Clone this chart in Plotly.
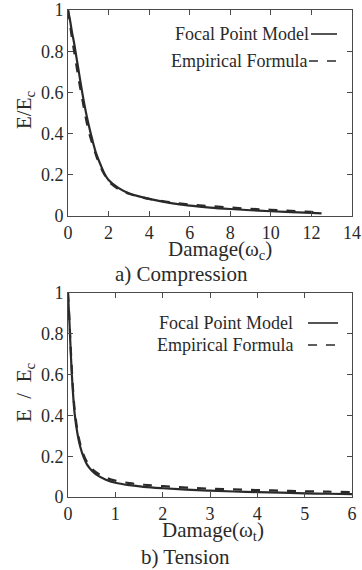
import plotly.graph_objects as go

# ---- data ----
comp_x_fpm = [0.0, 0.1, 0.2, 0.3, 0.4, 0.55, 0.7, 0.85, 1.0, 1.2, 1.4, 1.6, 1.8, 2.0, 2.5, 3.0, 3.5, 4.0, 5.0, 6.0, 7.0, 8.0, 9.0, 10.0, 11.0, 12.0, 12.5]
comp_y_fpm = [1.0, 0.95, 0.89, 0.84, 0.78, 0.69, 0.60, 0.52, 0.45, 0.37, 0.30, 0.25, 0.205, 0.175, 0.135, 0.11, 0.095, 0.083, 0.064, 0.050, 0.041, 0.034, 0.028, 0.023, 0.019, 0.015, 0.013]
comp_x_emp = [0.0, 0.1, 0.2, 0.3, 0.4, 0.55, 0.7, 0.85, 1.0, 1.2, 1.4, 1.6, 1.8, 2.0, 2.5, 3.0, 3.5, 4.0, 5.0, 6.0, 7.0, 8.0, 9.0, 10.0, 11.0, 12.0, 12.5]
comp_y_emp = [1.0, 0.93, 0.86, 0.80, 0.74, 0.65, 0.57, 0.49, 0.42, 0.35, 0.29, 0.24, 0.20, 0.168, 0.13, 0.108, 0.094, 0.083, 0.067, 0.056, 0.048, 0.041, 0.035, 0.030, 0.025, 0.020, 0.017]

tens_x_fpm = [0.0, 0.03, 0.06, 0.1, 0.14, 0.2, 0.26, 0.33, 0.4, 0.5, 0.6, 0.8, 1.0, 1.3, 1.6, 2.0, 2.5, 3.0, 3.5, 4.0, 4.5, 5.0, 5.5, 6.0]
tens_y_fpm = [1.0, 0.86, 0.70, 0.53, 0.41, 0.31, 0.245, 0.195, 0.16, 0.13, 0.11, 0.085, 0.07, 0.058, 0.05, 0.043, 0.036, 0.031, 0.027, 0.024, 0.021, 0.018, 0.016, 0.014]
tens_x_emp = [0.0, 0.03, 0.06, 0.1, 0.14, 0.2, 0.26, 0.33, 0.4, 0.5, 0.6, 0.8, 1.0, 1.3, 1.6, 2.0, 2.5, 3.0, 3.5, 4.0, 4.5, 5.0, 5.5, 6.0]
tens_y_emp = [1.0, 0.87, 0.72, 0.55, 0.43, 0.325, 0.258, 0.207, 0.172, 0.14, 0.12, 0.095, 0.08, 0.068, 0.06, 0.053, 0.046, 0.041, 0.037, 0.034, 0.031, 0.028, 0.026, 0.024]

comp_xticks = [0, 2, 4, 6, 8, 10, 12, 14]
tens_xticks = [0, 1, 2, 3, 4, 5, 6]
yticks = [0, 0.2, 0.4, 0.6, 0.8, 1]
ytick_text = ["0", "0.2", "0.4", "0.6", "0.8", "1"]

legend_labels = ["Focal Point Model", "Empirical Formula"]
titles_x = ["Damage(ω<sub>c</sub>)", "Damage(ω<sub>t</sub>)"]
titles_y = ["E/E<sub>c</sub>", "E  /  E<sub>c</sub>"]
captions = ["a) Compression", "b) Tension"]

FONT = "Liberation Serif"
INK = "#2a2a2a"
FRAME = "#4a4a4a"

fig = go.Figure()
fig.add_trace(go.Scatter(x=comp_x_fpm, y=comp_y_fpm, mode="lines", line=dict(color=INK, width=2.2, shape="spline"), xaxis="x", yaxis="y", showlegend=False))
fig.add_trace(go.Scatter(x=comp_x_emp, y=comp_y_emp, mode="lines", line=dict(color=INK, width=2.2, dash="dash", shape="spline"), xaxis="x", yaxis="y", showlegend=False))
fig.add_trace(go.Scatter(x=tens_x_fpm, y=tens_y_fpm, mode="lines", line=dict(color=INK, width=2.2, shape="spline"), xaxis="x2", yaxis="y2", showlegend=False))
fig.add_trace(go.Scatter(x=tens_x_emp, y=tens_y_emp, mode="lines", line=dict(color=INK, width=2.2, dash="dash", shape="spline"), xaxis="x2", yaxis="y2", showlegend=False))

axis_common = dict(showgrid=False, zeroline=False, showline=True, linecolor=FRAME, linewidth=1,
                   mirror="ticks", ticks="inside", ticklen=5, tickcolor=FRAME, automargin=False,
                   tickfont=dict(family=FONT, size=18, color=INK))

# page pixel geometry of plot areas: x 68..352, top plot y 10..216, bottom plot y 293..497
W, H = 362, 570
PL, PR, PT, PB = 68, 352, 10, 497
PH = PB - PT
PW = PR - PL
def px_to_paper_x(px):
    return (px - PL) / PW
def px_to_paper_y(py):
    return (PB - py) / PH

top_dom = [px_to_paper_y(216), 1.0]
bot_dom = [0.0, px_to_paper_y(293)]

fig.update_layout(
    width=W, height=H,
    margin=dict(l=PL, r=W - PR, t=PT, b=H - PB),
    paper_bgcolor="white", plot_bgcolor="white",
    font=dict(family=FONT, size=16, color=INK),
    xaxis=dict(domain=[0, 1], anchor="y", range=[0, 14], tickvals=comp_xticks, **axis_common),
    yaxis=dict(domain=top_dom, anchor="x", range=[0, 1], tickvals=yticks, ticktext=ytick_text, **axis_common),
    xaxis2=dict(domain=[0, 1], anchor="y2", range=[0, 6], tickvals=tens_xticks, **axis_common),
    yaxis2=dict(domain=bot_dom, anchor="x2", range=[0, 1], tickvals=yticks, ticktext=ytick_text, **axis_common),
)

TS = 21
def txt(text, px, py, size=TS, angle=0, xanchor="center"):
    return dict(text=text, x=px_to_paper_x(px), y=px_to_paper_y(py), xref="paper", yref="paper",
                xanchor=xanchor, yanchor="middle", showarrow=False, textangle=angle,
                font=dict(family=FONT, size=size, color=INK))

ann = [
    txt(titles_x[0], 220, 250),
    txt(captions[0], 181, 274),
    txt(titles_x[1], 213, 531),
    txt(captions[1], 185, 557),
    txt(titles_y[0], 25, 110, angle=-90),
    txt(titles_y[1], 25, 392, angle=-90),
]

# legends (text right aligned, sample to the right); page pixel positions
shapes = []
leg_rows = [(34, 311, 311, 337), (61, 309, 309, 337), (323, 295, 308, 338), (345, 295, 308, 338)]
for i, (py, tx, l0, l1) in enumerate(leg_rows):
    ann.append(txt(legend_labels[i % 2], tx, py, size=18, xanchor="right"))
    shapes.append(dict(type="line", xref="paper", yref="paper", x0=px_to_paper_x(l0), x1=px_to_paper_x(l1),
                       y0=px_to_paper_y(py), y1=px_to_paper_y(py),
                       line=dict(color=INK, width=1.6, dash="solid" if i % 2 == 0 else "dash")))

fig.update_layout(annotations=ann, shapes=shapes)
# remove the browser's default 8px body margin so the figure fills the window exactly
fig.write_html("out.html", config={"displayModeBar": False},
               post_script="document.body.style.margin='0';document.body.style.overflow='hidden';")
